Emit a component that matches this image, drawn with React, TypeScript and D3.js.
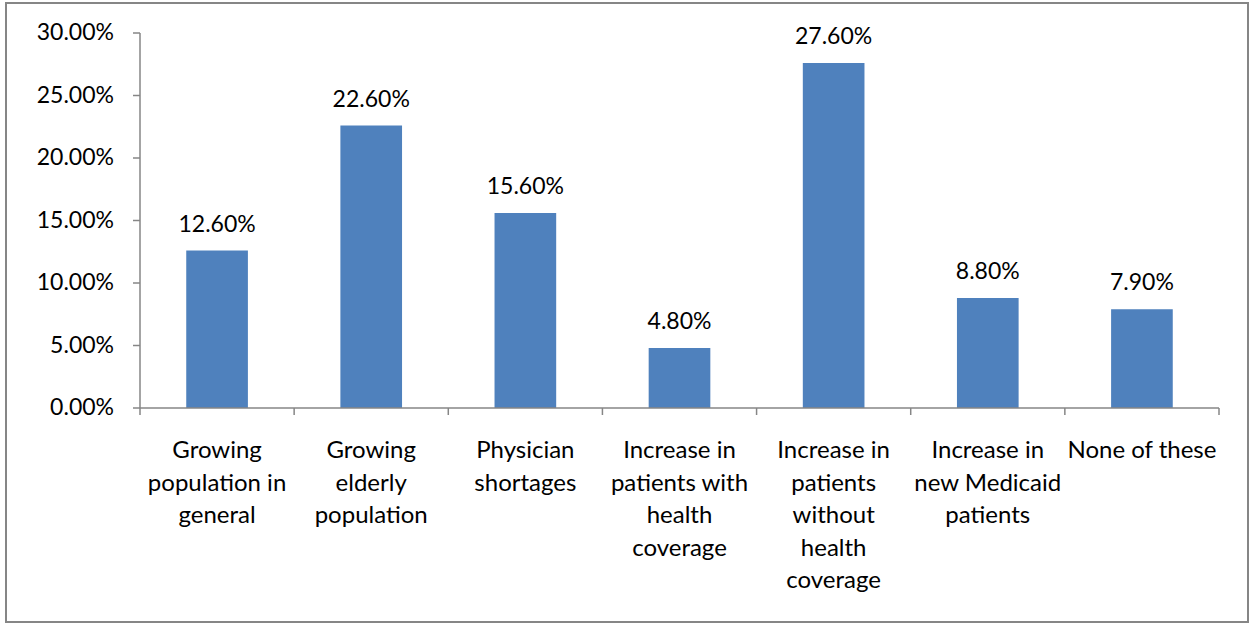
import React from "react";
import * as d3 from "d3";

const categories: string[][] = [
  ["Growing", "population in", "general"],
  ["Growing", "elderly", "population"],
  ["Physician", "shortages"],
  ["Increase in", "patients with", "health", "coverage"],
  ["Increase in", "patients", "without", "health", "coverage"],
  ["Increase in", "new Medicaid", "patients"],
  ["None of these"],
];
const values: number[] = [12.6, 22.6, 15.6, 4.8, 27.6, 8.8, 7.9];
const yTicks: number[] = [0, 5, 10, 15, 20, 25, 30];

const W = 1253;
const H = 624;
const left = 140;
const right = 1219;
const top = 33;
const bottom = 408;
const font = "Lato, 'Open Sans', sans-serif";
const fs = 23;
const fsCat = 24;

export default function App() {
  const x = d3
    .scaleBand<number>()
    .domain(d3.range(values.length))
    .range([left, right])
    .paddingInner(0.6)
    .paddingOuter(0.3);
  const step = (right - left) / values.length;
  const y = d3.scaleLinear().domain([0, 30]).range([bottom, top]);

  return (
    <svg
      width={W}
      height={H}
      style={{ position: "absolute", left: 0, top: 0, background: "#fff" }}
      fontFamily={font}
    >
      <rect x={6} y={3} width={1242} height={619} fill="#fff" stroke="#868686" strokeWidth={2} />
      {values.map((v, i) => (
        <rect
          key={i}
          x={x(i)}
          y={y(v)}
          width={x.bandwidth()}
          height={bottom - y(v)}
          fill="#4F81BD"
        />
      ))}
      {/* y axis */}
      <line x1={left} x2={left} y1={top} y2={bottom} stroke="#868686" strokeWidth={1.5} />
      {yTicks.map((t) => (
        <g key={t}>
          <line x1={left - 7} x2={left} y1={y(t)} y2={y(t)} stroke="#868686" strokeWidth={1.5} />
          <text
            x={114}
            y={y(t) + 7}
            textAnchor="end"
            fontSize={fs}
            fill="#000"
          >
            {t.toFixed(2) + "%"}
          </text>
        </g>
      ))}
      {/* x axis */}
      <line x1={left} x2={right} y1={bottom} y2={bottom} stroke="#868686" strokeWidth={1.5} />
      {d3.range(values.length + 1).map((i) => (
        <line
          key={i}
          x1={left + i * step}
          x2={left + i * step}
          y1={bottom}
          y2={bottom + 7}
          stroke="#868686"
          strokeWidth={1.5}
        />
      ))}
      {categories.map((lines, i) => (
        <text
          key={i}
          x={left + (i + 0.5) * step}
          textAnchor="middle"
          fontSize={fsCat}
          fill="#000"
        >
          {lines.map((l, j) => (
            <tspan key={j} x={left + (i + 0.5) * step} y={458 + j * 32.5}>
              {l}
            </tspan>
          ))}
        </text>
      ))}
      {values.map((v, i) => (
        <text
          key={i}
          x={(x(i) as number) + x.bandwidth() / 2}
          y={y(v) - 19}
          textAnchor="middle"
          fontSize={fs}
          fill="#000"
        >
          {v.toFixed(2) + "%"}
        </text>
      ))}
    </svg>
  );
}
